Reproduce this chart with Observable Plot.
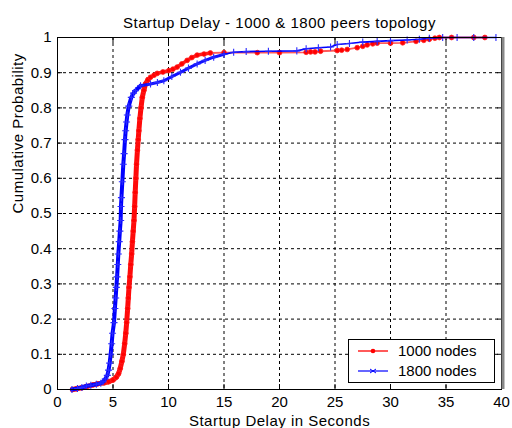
<!DOCTYPE html>
<html>
<head>
<meta charset="utf-8">
<script src="https://cdn.jsdelivr.net/npm/d3@7"></script>
<script src="https://cdn.jsdelivr.net/npm/@observablehq/plot@0.6"></script>
<style>
  body { margin: 0; background: #fff; }
  svg { font-family: "Liberation Sans", Arial, sans-serif; }
</style>
</head>
<body>
<div id="chart"></div>
<script>
// Empirical CDF of startup delay, 1000-peer topology
const delay1000 = [1.35, 1.7, 2.2, 2.6, 3.2, 3.6, 4.2, 4.6, 5.0, 5.3, 5.5, 5.65, 5.8, 5.93, 6.05, 6.15, 6.23, 6.32, 6.38, 6.44, 6.52, 6.6, 6.68, 6.75, 6.82, 6.89, 6.95, 7.0, 7.06, 7.12, 7.2, 7.27, 7.33, 7.42, 7.52, 7.64, 7.78, 7.93, 8.15, 8.38, 8.7, 8.98, 9.5, 10.03, 10.4, 10.78, 11.2, 11.68, 12.1, 12.58, 13.2, 13.77, 15, 18, 20, 22.4, 22.8, 23.2, 23.7, 25.2, 25.6, 26.1, 27, 27.5, 27.9, 28.4, 28.8, 30, 31.1, 32.3, 33, 33.5, 34, 34.4, 35.5, 37.5, 38.5];
const prob1000 = [0, 0.002, 0.005, 0.008, 0.013, 0.016, 0.019, 0.022, 0.027, 0.035, 0.045, 0.06, 0.08, 0.1, 0.13, 0.16, 0.19, 0.23, 0.26, 0.29, 0.32, 0.355, 0.385, 0.42, 0.45, 0.48, 0.52, 0.56, 0.6, 0.64, 0.68, 0.71, 0.735, 0.77, 0.8, 0.83, 0.85, 0.868, 0.88, 0.887, 0.893, 0.898, 0.902, 0.906, 0.91, 0.916, 0.925, 0.935, 0.943, 0.95, 0.953, 0.956, 0.957, 0.957, 0.957, 0.958, 0.959, 0.959, 0.961, 0.963, 0.964, 0.966, 0.971, 0.975, 0.979, 0.982, 0.984, 0.984, 0.985, 0.989, 0.992, 0.995, 0.998, 1, 1, 1, 1];

// Empirical CDF of startup delay, 1800-peer topology
const delay1800 = [1.3, 1.8, 2.2, 2.6, 3.0, 3.5, 3.9, 4.1, 4.3, 4.49, 4.6, 4.7, 4.79, 4.88, 4.96, 5.09, 5.17, 5.24, 5.3, 5.37, 5.43, 5.48, 5.56, 5.62, 5.69, 5.72, 5.76, 5.84, 5.93, 6.0, 6.08, 6.14, 6.22, 6.29, 6.42, 6.65, 6.85, 7.03, 7.48, 8.38, 9.0, 9.58, 10.3, 11.08, 11.8, 12.58, 13.3, 14.07, 15, 15.87, 17, 19, 21.56, 22.4, 23.5, 24.6, 25.2, 26.3, 27.5, 28.8, 30, 31.5, 32.6, 33.5, 34.7, 36, 37.5, 39.5];
const prob1800 = [0, 0.003, 0.006, 0.01, 0.012, 0.015, 0.018, 0.022, 0.03, 0.04, 0.055, 0.075, 0.1, 0.13, 0.16, 0.19, 0.23, 0.26, 0.29, 0.32, 0.355, 0.385, 0.42, 0.45, 0.48, 0.52, 0.545, 0.59, 0.64, 0.67, 0.71, 0.735, 0.76, 0.78, 0.805, 0.83, 0.842, 0.849, 0.863, 0.868, 0.872, 0.877, 0.889, 0.901, 0.913, 0.925, 0.935, 0.944, 0.952, 0.958, 0.96, 0.961, 0.962, 0.968, 0.971, 0.973, 0.98, 0.983, 0.987, 0.989, 0.991, 0.993, 0.995, 0.998, 1, 1, 1, 1];

const xTicks = [0, 5, 10, 15, 20, 25, 30, 35, 40];
const yTicks = [0, 0.1, 0.2, 0.3, 0.4, 0.5, 0.6, 0.7, 0.8, 0.9, 1];
const titleText = "Startup Delay - 1000 & 1800 peers topology";
const xLabel = "Startup Delay in Seconds";
const yLabel = "Cumulative Probability";
const seriesNames = ["1000 nodes", "1800 nodes"];

const s1000 = delay1000.map((d, i) => ({x: d, y: prob1000[i]}));
const s1800 = delay1800.map((d, i) => ({x: d, y: prob1800[i]}));

// where samples are densest the markers merge into a heavy stroke
const steep1000 = s1000.filter(d => d.x < 8.2);
const steep1800 = s1800.filter(d => d.x < 7.6);
const busy1000 = s1000.filter(d => d.x >= 7.9 && d.x < 14);
const busy1800 = s1800.filter(d => d.x >= 7.4 && d.x < 15.5);

const fmtY = d => d === 0 ? "0" : d === 1 ? "1" : d3.format(".1f")(d);
const FS = 15;

const chart = Plot.plot({
  width: 512,
  height: 428,
  marginLeft: 57,
  marginRight: 11,
  marginTop: 37,
  marginBottom: 39,
  style: {fontFamily: "Liberation Sans, Arial, sans-serif", fontSize: FS + "px", background: "#fff", color: "#000"},
  x: {domain: [0, 40]},
  y: {domain: [0, 1]},
  marks: [
    Plot.gridX(xTicks, {stroke: "#000", strokeOpacity: 1, strokeDasharray: "3,3"}),
    Plot.gridY(yTicks, {stroke: "#000", strokeOpacity: 1, strokeDasharray: "3,3"}),
    // inward ticks on all four sides
    Plot.axisX(xTicks, {anchor: "bottom", tickSize: -5, text: null, label: null}),
    Plot.axisX(xTicks, {anchor: "top", tickSize: -5, text: null, label: null}),
    Plot.axisY(yTicks, {anchor: "left", tickSize: -5, text: null, label: null}),
    Plot.axisY(yTicks, {anchor: "right", tickSize: -5, text: null, label: null}),
    // tick labels
    Plot.axisX(xTicks, {anchor: "bottom", tickSize: 0, tickPadding: 7, label: null, fontSize: FS}),
    Plot.axisY(yTicks, {anchor: "left", tickSize: 0, tickPadding: 6, tickFormat: fmtY, label: null, fontSize: FS}),
    // 1000 nodes
    Plot.line(s1000, {x: "x", y: "y", stroke: "#ff5a5a", strokeWidth: 1.8}),
    Plot.line(steep1000, {x: "x", y: "y", stroke: "#ff0a0a", strokeWidth: 5}),
    Plot.line(busy1000, {x: "x", y: "y", stroke: "#ff1a1a", strokeWidth: 3.5}),
    Plot.dot(s1000, {x: "x", y: "y", r: 2.4, fill: "#ff0000", stroke: "#ff2020", strokeWidth: 0.8}),
    // 1800 nodes
    Plot.line(s1800, {x: "x", y: "y", stroke: "#0000ff", strokeWidth: 1.6}),
    Plot.line(steep1800, {x: "x", y: "y", stroke: "#0000ff", strokeWidth: 4}),
    Plot.line(busy1800, {x: "x", y: "y", stroke: "#1010ff", strokeWidth: 3}),
    Plot.dot(s1800, {x: "x", y: "y", r: 2.4, symbol: "plus", stroke: "#2a2aff", strokeWidth: 1.1}),
    Plot.frame({stroke: "#000", strokeWidth: 1}),
    Plot.ruleX([40], {stroke: "#888", strokeWidth: 3, dx: 1.5}),
    // title and axis labels
    Plot.text([titleText], {frameAnchor: "top", dy: -10, lineAnchor: "bottom", fontSize: FS}),
    Plot.text([xLabel], {frameAnchor: "bottom", dy: 36, lineAnchor: "bottom", fontSize: FS}),
    Plot.text([yLabel], {frameAnchor: "left", dx: -39, rotate: -90, fontSize: FS})
  ]
});

const svg = d3.select(chart);

// slightly looser tracking for the title and axis labels
svg.selectAll("text")
  .filter(function() { return [titleText, xLabel, yLabel].includes(this.textContent); })
  .style("letter-spacing", "0.5px");

// legend box in the lower right of the plot area
const lg = svg.append("g")
  .attr("font-size", FS)
  .attr("text-anchor", "start")
  .attr("font-family", "Liberation Sans, Arial, sans-serif");
lg.append("rect").attr("x", 348.5).attr("y", 339.5).attr("width", 146).attr("height", 43)
  .attr("fill", "#fff").attr("stroke", "#000");
const entries = [
  {name: seriesNames[0], line: "#ff5a5a", mark: "#ff0000", dot: true, y: 351},
  {name: seriesNames[1], line: "#0000ff", mark: "#0000ff", dot: false, y: 371}
];
for (const e of entries) {
  lg.append("line").attr("x1", 358).attr("x2", 388).attr("y1", e.y).attr("y2", e.y)
    .attr("stroke", e.line).attr("stroke-width", e.dot ? 2 : 1.2);
  if (e.dot) {
    lg.append("circle").attr("cx", 373).attr("cy", e.y).attr("r", 2.3).attr("fill", e.mark);
  } else {
    lg.append("path").attr("d", `M370,${e.y - 2}L376,${e.y + 2}M370,${e.y + 2}L376,${e.y - 2}`)
      .attr("stroke", e.mark).attr("stroke-width", 1);
  }
  lg.append("text").attr("x", 398).attr("y", e.y).attr("dy", "0.35em").text(e.name);
}

document.getElementById("chart").appendChild(chart);
</script>
</body>
</html>
